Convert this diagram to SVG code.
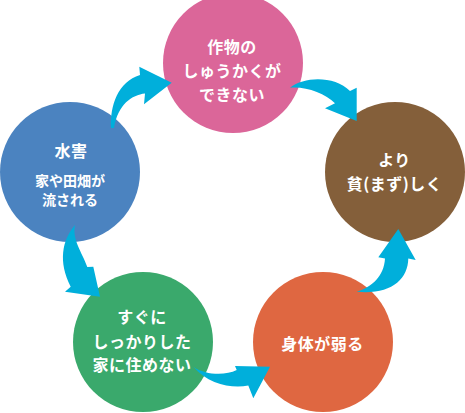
<svg xmlns="http://www.w3.org/2000/svg" width="465" height="413" viewBox="0 0 465 413">
<style>
.node{stroke:none}
.t{font-family:"Noto Sans CJK JP","Noto Sans",sans-serif;font-weight:bold;fill:#ffffff;text-anchor:middle;dominant-baseline:central;font-size:16px;letter-spacing:0.5px}
.s{font-size:14px;letter-spacing:0}
.arrow{fill:#00afdb;stroke:none}
</style>
<rect width="465" height="413" fill="#ffffff"/>
<g id="node-flood">
<circle class="node" cx="70" cy="172" r="70" fill="#4b83c0"/>
<text class="t" x="71" y="150">水害</text>
<text class="t s" x="70" y="180">家や田畑が</text>
<text class="t s" x="70" y="199">流される</text>
</g>
<g id="node-crops">
<circle class="node" cx="233" cy="63" r="70" fill="#db6699"/>
<text class="t" x="232" y="45.5">作物の</text>
<text class="t" x="232" y="70">しゅうかくが</text>
<text class="t" x="232" y="94">できない</text>
</g>
<g id="node-poor">
<circle class="node" cx="395" cy="172" r="70" fill="#845f3a"/>
<text class="t" x="394.5" y="159">より</text>
<text class="t" x="394.5" y="183">貧(まず)しく</text>
</g>
<g id="node-weak">
<circle class="node" cx="323" cy="342" r="70" fill="#df6741"/>
<text class="t" x="322.5" y="342.5">身体が弱る</text>
</g>
<g id="node-house">
<circle class="node" cx="143" cy="342" r="70" fill="#3aa96c"/>
<text class="t" x="142" y="316">すぐに</text>
<text class="t" x="142" y="341">しっかりした</text>
<text class="t" x="142" y="364">家に住めない</text>
</g>
<g id="connectors">
<path class="arrow" d="M111,128 C110,105 118,82 140,75 L139.3,66.7 L171.7,82.7 L144,104.3 L145,93.5 C132,95 118,104 114,128 Z"/>
<path class="arrow" d="M290,87.7 C305,76 335,76 350,91 L356.7,87.7 L356.7,121 L325,108.3 L335,103.3 C325,93 305,86 290,87.7 Z"/>
<path class="arrow" d="M398.3,229 L415.7,260 L408.3,258.5 C408,280 390,295 356.7,291.7 C372,287 384,276 385,258.5 L378.3,257.3 Z"/>
<path class="arrow" d="M193.3,366.7 C205,375 225,376 236.7,370 L235,366 L270,366.7 L253.3,398.3 L248.3,385.5 C232,389 208,384 193.3,366.7 Z"/>
<path class="arrow" d="M75,225 C62,240 58,262 70.7,286.7 L65,291.7 L100,296.7 L93.3,266.7 L87.3,267 C82,252 72,240 75,225 Z"/>
</g>
</svg>
